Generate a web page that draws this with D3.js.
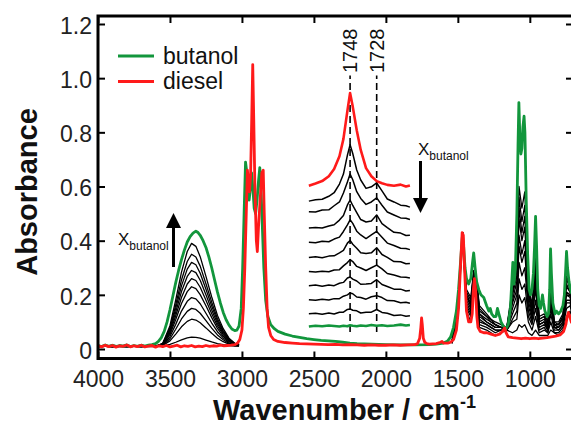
<!DOCTYPE html>
<html><head><meta charset="utf-8">
<script src="https://cdn.jsdelivr.net/npm/d3@7/dist/d3.min.js"></script>
<style>body{margin:0;background:#fff}svg{display:block}text{font-family:"Liberation Sans",Arial,sans-serif}</style>
</head><body>
<svg id="c" width="571" height="426"></svg>
<script>
// ---------- data ----------
const xTicks = [4000, 3500, 3000, 2500, 2000, 1500, 1000];
const xTickLabels = ["4000", "3500", "3000", "2500", "2000", "1500", "1000"];
const yTicks = [0, 0.2, 0.4, 0.6, 0.8, 1.0, 1.2];
const yTickLabels = ["0", "0.2", "0.4", "0.6", "0.8", "1.0", "1.2"];
const seriesNames = ["butanol", "diesel"];
const markerWn = [1748, 1728];

const diesel = [[4000,.012],[3975,.008],[3950,.014],[3925,.009],[3900,.013],[3875,.007],[3850,.012],[3825,.010],[3800,.015],[3775,.008],[3750,.012],[3725,.009],[3700,.014],[3675,.008],[3650,.011],[3625,.013],[3600,.007],[3575,.012],[3550,.009],[3525,.013],[3500,.008],[3475,.011],[3450,.014],[3425,.008],[3400,.012],[3375,.010],[3350,.013],[3325,.008],[3300,.011],[3275,.009],[3250,.013],[3225,.010],[3200,.012],[3175,.011],[3150,.014],[3125,.012],[3100,.013],[3075,.014],[3050,.016],[3030,.022],[3015,.035],[3000,.07],[2990,.15],[2980,.3],[2970,.5],[2962,.66],[2955,.62],[2948,.58],[2940,.64],[2932,.85],[2925,1.05],[2918,.85],[2910,.6],[2900,.4],[2893,.36],[2885,.45],[2870,.58],[2862,.65],[2852,.66],[2845,.5],[2835,.3],[2825,.15],[2815,.08],[2800,.05],[2780,.035],[2750,.028],[2700,.024],[2650,.022],[2600,.02],[2550,.019],[2500,.018],[2450,.017],[2400,.016],[2350,.017],[2300,.015],[2250,.016],[2200,.015],[2150,.014],[2100,.015],[2050,.014],[2000,.014],[1950,.015],[1900,.014],[1850,.015],[1800,.016],[1780,.02],[1765,.04],[1757,.08],[1752,.115],[1747,.09],[1740,.04],[1730,.025],[1715,.02],[1700,.018],[1650,.02],[1620,.025],[1610,.028],[1600,.022],[1570,.022],[1550,.025],[1530,.035],[1510,.07],[1495,.15],[1482,.3],[1470,.43],[1462,.42],[1452,.28],[1440,.14],[1425,.1],[1410,.1],[1400,.13],[1392,.22],[1385,.26],[1377,.22],[1368,.12],[1360,.08],[1345,.065],[1320,.06],[1300,.06],[1270,.055],[1240,.05],[1210,.055],[1190,.065],[1175,.078],[1165,.06],[1150,.045],[1120,.042],[1090,.04],[1060,.038],[1030,.04],[1000,.038],[970,.04],[940,.038],[910,.04],[880,.042],[850,.045],[820,.048],[790,.052],[765,.065],[750,.09],[740,.12],[732,.135],[722,.12],[712,.1],[700,.09]];

const butanol = [[4000,.013],[3975,.009],[3950,.015],[3925,.01],[3900,.014],[3875,.009],[3850,.013],[3825,.011],[3800,.015],[3775,.009],[3750,.013],[3725,.01],[3700,.014],[3675,.011],[3650,.014],[3625,.016],[3600,.02],[3580,.028],[3560,.042],[3540,.065],[3520,.1],[3500,.145],[3480,.195],[3460,.245],[3440,.29],[3420,.33],[3400,.365],[3380,.395],[3360,.415],[3340,.428],[3320,.435],[3305,.43],[3290,.42],[3270,.4],[3250,.375],[3230,.34],[3210,.3],[3190,.255],[3170,.21],[3150,.17],[3130,.135],[3110,.108],[3090,.088],[3070,.074],[3050,.068],[3035,.07],[3020,.085],[3005,.15],[2995,.3],[2985,.5],[2975,.69],[2968,.66],[2960,.58],[2950,.55],[2940,.6],[2933,.65],[2925,.6],[2915,.52],[2905,.5],[2895,.55],[2885,.62],[2876,.67],[2868,.6],[2858,.45],[2848,.3],[2835,.18],[2820,.12],[2800,.09],[2775,.075],[2750,.065],[2700,.055],[2650,.048],[2600,.043],[2550,.038],[2500,.035],[2450,.032],[2400,.03],[2350,.028],[2300,.025],[2250,.022],[2200,.02],[2150,.019],[2100,.018],[2050,.017],[2000,.016],[1900,.015],[1800,.015],[1700,.016],[1650,.018],[1600,.022],[1570,.03],[1550,.045],[1530,.08],[1510,.14],[1495,.22],[1480,.33],[1468,.42],[1460,.38],[1450,.3],[1440,.26],[1425,.24],[1410,.26],[1398,.32],[1390,.355],[1380,.3],[1370,.25],[1355,.22],[1340,.2],[1320,.19],[1300,.16],[1285,.14],[1275,.15],[1265,.13],[1250,.12],[1235,.12],[1225,.15],[1215,.13],[1200,.1],[1185,.085],[1165,.075],[1150,.09],[1135,.15],[1125,.25],[1118,.32],[1110,.24],[1100,.3],[1090,.5],[1082,.75],[1076,.91],[1070,.8],[1062,.72],[1055,.74],[1048,.82],[1040,.86],[1034,.8],[1025,.55],[1015,.35],[1005,.22],[995,.2],[985,.22],[975,.28],[967,.38],[960,.49],[953,.38],[945,.22],[935,.16],[925,.15],[912,.2],[905,.17],[895,.14],[880,.12],[870,.13],[862,.22],[856,.37],[850,.28],[840,.17],[825,.13],[815,.14],[800,.13],[785,.14],[770,.16],[760,.2],[752,.28],[745,.36],[738,.3],[728,.25],[718,.22],[706,.2],[700,.21]];

// mixture spectra, O-H stretch region
const mixOHWn = [4000,3900,3800,3700,3650,3600,3550,3500,3460,3420,3380,3350,3320,3290,3250,3210,3170,3130,3090,3050,3020];
const mixOH = [
 [.013,.008,.012,.009,.01,.01,.021,.086,.181,.284,.36,.39,.379,.341,.268,.192,.124,.075,.04,.021,.018],
 [.009,.012,.008,.013,.01,.011,.02,.078,.163,.255,.323,.35,.34,.306,.241,.173,.112,.068,.037,.02,.017],
 [.012,.009,.013,.008,.011,.01,.019,.072,.15,.233,.295,.32,.311,.28,.221,.159,.103,.063,.035,.019,.016],
 [.008,.013,.01,.012,.009,.01,.018,.066,.136,.212,.268,.29,.282,.254,.2,.144,.094,.058,.032,.018,.016],
 [.011,.009,.012,.01,.01,.011,.018,.06,.123,.19,.24,.26,.253,.228,.18,.13,.085,.053,.03,.018,.015],
 [.01,.012,.009,.011,.012,.01,.017,.054,.109,.168,.212,.23,.223,.201,.16,.116,.076,.047,.028,.017,.014],
 [.012,.008,.011,.013,.01,.009,.015,.046,.091,.14,.176,.19,.185,.167,.132,.096,.064,.041,.024,.015,.014],
 [.009,.011,.013,.009,.011,.01,.014,.038,.073,.111,.139,.15,.146,.132,.105,.077,.052,.034,.021,.014,.013],
 [.011,.01,.008,.012,.01,.011,.013,.03,.055,.082,.102,.11,.107,.097,.078,.058,.04,.027,.018,.013,.012],
 [.01,.013,.011,.009,.011,.01,.011,.017,.025,.034,.041,.044,.043,.04,.033,.026,.02,.016,.013,.011,.011]
];
// mixture spectra, fingerprint region
const mixFPWn = [1540,1500,1467,1440,1410,1390,1377,1350,1300,1270,1240,1200,1160,1120,1090,1075,1055,1035,1010,985,960,935,900,875,855,830,800,770,745,720,700];
const mixFP = [
 [.04,.17,.42,.22,.19,.29,.29,.16,.13,.11,.10,.09,.08,.23,.32,.60,.52,.58,.25,.16,.34,.12,.13,.10,.26,.10,.10,.13,.27,.23,.18],
 [.04,.16,.42,.21,.18,.28,.28,.15,.12,.11,.09,.08,.08,.21,.29,.56,.47,.53,.23,.15,.31,.11,.12,.09,.24,.10,.09,.12,.26,.22,.17],
 [.04,.16,.42,.20,.17,.28,.28,.14,.12,.10,.09,.08,.08,.20,.27,.52,.43,.49,.21,.14,.29,.11,.12,.09,.22,.09,.09,.12,.24,.21,.16],
 [.04,.15,.43,.20,.16,.27,.28,.13,.11,.10,.09,.08,.07,.18,.25,.48,.40,.45,.20,.13,.27,.10,.11,.08,.21,.09,.09,.11,.23,.21,.16],
 [.03,.15,.43,.19,.16,.26,.28,.13,.10,.09,.08,.08,.07,.17,.22,.42,.35,.40,.18,.12,.24,.09,.10,.08,.19,.09,.08,.10,.21,.20,.15],
 [.03,.14,.43,.18,.15,.25,.28,.12,.10,.09,.08,.08,.07,.15,.20,.38,.32,.36,.16,.11,.22,.09,.10,.07,.17,.08,.08,.10,.20,.19,.14],
 [.03,.14,.43,.17,.14,.24,.27,.11,.09,.08,.07,.07,.07,.13,.17,.32,.27,.30,.14,.10,.18,.08,.09,.07,.15,.08,.07,.09,.18,.18,.13],
 [.03,.13,.43,.16,.13,.23,.27,.10,.09,.08,.07,.07,.07,.11,.14,.26,.22,.24,.12,.09,.15,.07,.08,.06,.13,.07,.07,.09,.17,.17,.12],
 [.03,.13,.43,.15,.12,.22,.27,.09,.08,.07,.06,.07,.07,.10,.11,.20,.17,.19,.10,.07,.12,.06,.07,.06,.10,.06,.06,.08,.15,.16,.11],
 [.02,.12,.43,.14,.10,.21,.26,.08,.07,.06,.05,.06,.07,.06,.07,.09,.08,.09,.06,.05,.07,.05,.05,.05,.07,.06,.05,.07,.12,.14,.10]
];

// inset: C=O region (offset traces)
const insetWn = [1779,1774,1769,1764,1760,1756,1753,1750,1748,1746,1743,1740,1736,1732,1728,1724,1720,1715,1710,1706,1703];
const insetDiesel = [.603,.611,.62,.638,.665,.712,.776,.88,.945,.895,.808,.735,.668,.638,.62,.612,.606,.603,.607,.6,.604];
const insetMix = [
 [.546,.551,.553,.564,.577,.609,.646,.716,.754,.722,.661,.624,.593,.599,.613,.584,.554,.543,.531,.529,.524],
 [.507,.506,.513,.514,.529,.543,.576,.617,.646,.625,.581,.556,.534,.543,.558,.531,.506,.495,.484,.483,.478],
 [.447,.449,.447,.454,.459,.476,.493,.532,.55,.53,.504,.478,.469,.473,.495,.463,.448,.431,.428,.419,.42],
 [.394,.392,.398,.396,.406,.413,.434,.458,.477,.464,.435,.421,.408,.421,.434,.413,.391,.382,.372,.371,.367],
 [.338,.341,.337,.343,.344,.355,.364,.391,.401,.387,.372,.355,.353,.355,.374,.349,.338,.323,.322,.315,.316],
 [.286,.284,.287,.285,.292,.293,.307,.319,.33,.323,.305,.299,.29,.3,.31,.296,.279,.273,.266,.265,.262],
 [.234,.236,.232,.236,.234,.243,.246,.262,.266,.258,.251,.239,.24,.242,.256,.238,.231,.221,.221,.214,.216],
 [.182,.18,.184,.181,.186,.186,.195,.2,.207,.204,.192,.19,.184,.193,.197,.19,.179,.178,.171,.173,.169],
 [.13,.132,.128,.133,.129,.136,.136,.146,.148,.143,.141,.133,.136,.136,.146,.135,.132,.124,.126,.121,.123]
];
const insetButanol = [.083,.086,.084,.087,.085,.083,.086,.084,.088,.086,.084,.087,.085,.089,.086,.088,.085,.087,.09,.087,.089];

// ---------- drawing ----------
const GREEN = "#12963c", RED = "#ff1a1a", BLACK = "#000";
const svg = d3.select("#c");
const x = d3.scaleLinear().domain([4000, 700]).range([98, 573]);
const y = d3.scaleLinear().domain([-0.035, 1.2295]).range([358.5, 16]);
// inset wavenumber scale occupies the 2535–1833 cm-1 span of the main axis
const xi = d3.scaleLinear().domain([1779, 1703]).range([x(2535), x(1833)]);

svg.append("defs").append("clipPath").attr("id","clip")
  .append("rect").attr("x",98).attr("y",16).attr("width",475).attr("height",342.5);
const plot = svg.append("g").attr("clip-path","url(#clip)");

const line = d3.line().x(d => x(d[0])).y(d => y(d[1]));
const zipW = (w, v) => w.map((wn, i) => [wn, v[i]]);

mixOH.forEach(v => plot.append("path").attr("d", line(zipW(mixOHWn, v)))
  .attr("fill","none").attr("stroke",BLACK).attr("stroke-width",1.3).attr("stroke-linejoin","round"));
mixFP.forEach(v => plot.append("path").attr("d", line(zipW(mixFPWn, v)))
  .attr("fill","none").attr("stroke",BLACK).attr("stroke-width",1.3).attr("stroke-linejoin","round"));
plot.append("path").attr("d", line(butanol)).attr("fill","none")
  .attr("stroke",GREEN).attr("stroke-width",2.8).attr("stroke-linejoin","round");
plot.append("path").attr("d", line(diesel)).attr("fill","none")
  .attr("stroke",RED).attr("stroke-width",2.8).attr("stroke-linejoin","round");

// inset
const iline = d3.line().x(d => xi(d[0])).y(d => y(d[1]));
markerWn.forEach(m => {
  plot.append("line").attr("x1",xi(m)).attr("x2",xi(m)).attr("y1",y(0.063)).attr("y2",y(1.01))
    .attr("stroke",BLACK).attr("stroke-width",1.6).attr("stroke-dasharray","7,4");
});
insetMix.forEach(v => plot.append("path").attr("d", iline(zipW(insetWn, v)))
  .attr("fill","none").attr("stroke",BLACK).attr("stroke-width",1.5).attr("stroke-linejoin","round"));
plot.append("path").attr("d", iline(zipW(insetWn, insetDiesel))).attr("fill","none")
  .attr("stroke",RED).attr("stroke-width",2.6).attr("stroke-linejoin","round");
plot.append("path").attr("d", iline(zipW(insetWn, insetButanol))).attr("fill","none")
  .attr("stroke",GREEN).attr("stroke-width",2.6).attr("stroke-linejoin","round");
markerWn.forEach(m => {
  svg.append("text").attr("transform",`translate(${xi(m)+7},73) rotate(-90)`)
    .attr("font-size",20).attr("fill","#111").text(m);
});

// arrows and x_butanol labels
function arrow(xc, yTail, yTip) {
  const dir = yTip < yTail ? -1 : 1;
  svg.append("line").attr("x1",xc).attr("x2",xc).attr("y1",yTail).attr("y2",yTip - dir*12)
    .attr("stroke",BLACK).attr("stroke-width",3);
  svg.append("path").attr("d",`M${xc-7.5},${yTip-dir*15}L${xc+7.5},${yTip-dir*15}L${xc},${yTip}Z`).attr("fill",BLACK);
}
arrow(173.5, 267, 213);
arrow(420.5, 161, 213);
function xlab(x0, base) {
  const t = svg.append("text").attr("x",x0).attr("y",base).attr("fill","#111");
  t.append("tspan").attr("font-size",17).text("X");
  t.append("tspan").attr("font-size",12).attr("dy",5).text(seriesNames[0]);
}
xlab(118, 245);
xlab(418, 154.5);

// legend
[[GREEN, seriesNames[0], 56], [RED, seriesNames[1], 81.5]].forEach(([c, n, yy]) => {
  svg.append("line").attr("x1",118).attr("x2",154).attr("y1",yy).attr("y2",yy).attr("stroke",c).attr("stroke-width",3);
  svg.append("text").attr("x",163).attr("y",yy+7.5).attr("font-size",23).attr("fill","#111").text(n);
});

// axes
const axB = svg.append("g").attr("transform","translate(0,358.5)")
  .call(d3.axisBottom(x).tickValues(xTicks).tickSizeInner(-7).tickSizeOuter(0).tickPadding(12.5)
    .tickFormat((d,i) => xTickLabels[i]));
const axT = svg.append("g").attr("transform","translate(0,16)")
  .call(d3.axisTop(x).tickValues(xTicks).tickSizeInner(-7).tickSizeOuter(0).tickFormat(""));
const axL = svg.append("g").attr("transform","translate(98,0)")
  .call(d3.axisLeft(y).tickValues(yTicks).tickSizeInner(-7).tickSizeOuter(0).tickPadding(6)
    .tickFormat((d,i) => yTickLabels[i]));
const axR = svg.append("g").attr("transform","translate(573,0)")
  .call(d3.axisRight(y).tickValues(yTicks).tickSizeInner(-7).tickSizeOuter(0).tickFormat(""));
[axB, axT, axL, axR].forEach(a => {
  a.select(".domain").remove();
  a.selectAll(".tick line").attr("stroke",BLACK).attr("stroke-width",2);
  a.selectAll(".tick text").attr("font-size",23).attr("fill","#222")
    .attr("font-family",'"Liberation Sans",Arial,sans-serif');
});
axL.selectAll(".tick text").attr("dy","0.4em");
svg.append("rect").attr("x",98).attr("y",16).attr("width",475).attr("height",342.5)
  .attr("fill","none").attr("stroke",BLACK).attr("stroke-width",3);

// axis titles
const xt = svg.append("text").attr("x",213).attr("y",420).attr("font-size",29).attr("font-weight","bold").attr("fill","#111");
xt.append("tspan").text("Wavenumber / cm");
xt.append("tspan").attr("font-size",18).attr("dy",-12).text("-1");
svg.append("text").attr("transform","translate(37,192) rotate(-90)").attr("text-anchor","middle")
  .attr("font-size",29).attr("font-weight","bold").attr("fill","#111").text("Absorbance");
</script>
</body></html>
